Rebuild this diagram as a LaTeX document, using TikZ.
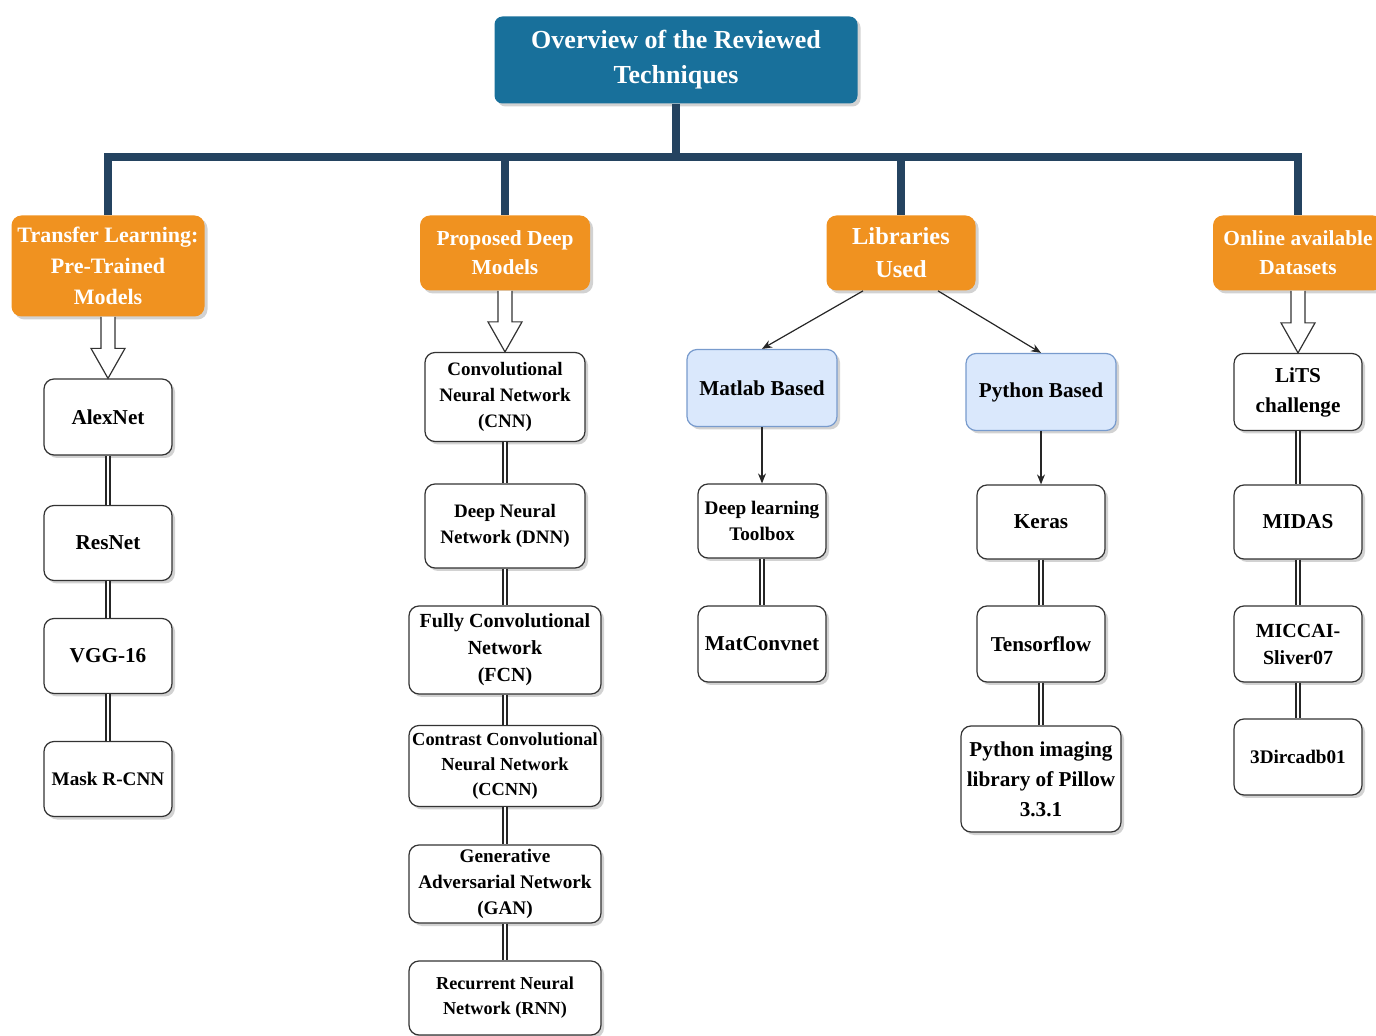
\documentclass[tikz,border=0pt]{standalone}
\usepackage{fontspec}
\setmainfont{Liberation Serif}
\usetikzlibrary{arrows.meta, calc, shadows}
\definecolor{rootteal}{RGB}{24,112,155}
\definecolor{catorange}{RGB}{240,146,32}
\definecolor{trunknavy}{RGB}{36,67,96}
\definecolor{libblue}{RGB}{218,232,252}
\definecolor{libedge}{RGB}{120,155,205}
\newcommand{\fs}[2]{\fontsize{#1}{#2}\selectfont}
% open block arrow from a category box down to its first item
\newcommand{\hollowdown}[2]{%
\draw[hollow] ($(#1.south)+(-7,0)$) -- ($(#2.north)+(-7,-30)$) -- ($(#2.north)+(-17,-30)$)
  -- (#2.north) -- ($(#2.north)+(17,-30)$) -- ($(#2.north)+(7,-30)$) -- ($(#1.south)+(7,0)$);}

\begin{document}
\begin{tikzpicture}[x=0.5pt, y=-0.5pt,
  shade box/.style={drop shadow={shadow xshift=1.5pt, shadow yshift=-1.5pt, fill=black!35}},
  rootbox/.style={shade box, fill=rootteal, text=white, rounded corners=4pt, align=center,
    font=\bfseries\fs{13}{17.5}, minimum width=181.5pt, minimum height=43.5pt, inner sep=1pt},
  catbox/.style={shade box, fill=catorange, text=white, rounded corners=5pt, align=center,
    font=\bfseries\fs{10.7}{14.5}, inner sep=1pt},
  libbox/.style={shade box, fill=libblue, draw=libedge, line width=0.6pt, rounded corners=5pt,
    align=center, font=\bfseries\fs{10.6}{15}, minimum width=75pt, minimum height=38.5pt},
  itembox/.style={shade box, fill=white, draw=black!80, line width=0.6pt, rounded corners=5pt,
    align=center, font=\bfseries\fs{10.6}{15}, inner sep=1pt},
  netbox/.style={itembox, font=\bfseries\fs{9.5}{12.8}},
  trunk/.style={draw=trunknavy, line width=4pt},
  link/.style={draw=black!85, line width=0.6pt, double, double distance=1.4pt},
  flow/.style={draw=black!85, line width=0.6pt, -{Stealth[length=5pt, width=4pt]}},
  hollow/.style={draw=black!80, fill=white, line width=0.6pt}]
\useasboundingbox (0,0) rectangle (1376,1036);

% root and categories
\node[rootbox] (root) at (676,60) {Overview of the Reviewed\\Techniques};
\node[catbox, minimum width=96.5pt, minimum height=50.5pt, font=\bfseries\fs{11}{15.5}] (tl) at (108,266) {Transfer Learning:\\Pre-Trained\\Models};
\node[catbox, minimum width=85pt, minimum height=37.5pt] (pd) at (505,253) {Proposed Deep\\Models};
\node[catbox, minimum width=74.5pt, minimum height=37.5pt, font=\bfseries\fs{12.2}{16.5}] (lib) at (901,253) {Libraries\\Used};
\node[catbox, minimum width=85pt, minimum height=37.5pt] (od) at (1298,253) {Online available\\Datasets};

\coordinate (bus) at (676,157);
\draw[trunk] (root.south) -- (bus);
\foreach \c in {tl,pd,lib,od}
  \draw[trunk] (bus) -| (\c.north);

% pre-trained models
\node[itembox, minimum width=64pt, minimum height=38pt] (alex) at (108,417) {AlexNet};
\node[itembox, minimum width=64pt, minimum height=37.5pt] (resnet) at (108,543) {ResNet};
\node[itembox, minimum width=64pt, minimum height=37.5pt] (vgg) at (108,656) {VGG-16};
\node[itembox, minimum width=64pt, minimum height=37.5pt, font=\bfseries\fs{9.6}{13}] (mask) at (108,779) {Mask R-CNN};
\hollowdown{tl}{alex}
\draw[link] (alex) -- (resnet);
\draw[link] (resnet) -- (vgg);
\draw[link] (vgg) -- (mask);

% proposed deep models
\node[netbox, minimum width=80pt, minimum height=44.5pt] (cnn) at (505,397) {Convolutional\\Neural Network\\(CNN)};
\node[netbox, minimum width=80pt, minimum height=42pt] (dnn) at (505,526) {Deep Neural\\Network (DNN)};
\node[netbox, minimum width=96pt, minimum height=44pt, font=\bfseries\fs{10}{13.5}] (fcn) at (505,650) {Fully Convolutional\\Network\\(FCN)};
\node[netbox, minimum width=96pt, minimum height=40.5pt, font=\bfseries\fs{9.2}{12.3}] (ccnn) at (505,766) {Contrast Convolutional\\Neural Network\\(CCNN)};
\node[netbox, minimum width=96pt, minimum height=39pt, font=\bfseries\fs{9.6}{13}] (gan) at (505,884) {Generative\\Adversarial Network\\(GAN)};
\node[netbox, minimum width=96pt, minimum height=37pt, font=\bfseries\fs{9.1}{12.5}] (rnn) at (505,998) {Recurrent Neural\\Network (RNN)};
\hollowdown{pd}{cnn}
\draw[link] (cnn) -- (dnn);
\draw[link] (dnn) -- (fcn);
\draw[link] (fcn) -- (ccnn);
\draw[link] (ccnn) -- (gan);
\draw[link] (gan) -- (rnn);

% libraries
\node[libbox] (matlab) at (762,388) {Matlab Based};
\node[libbox] (python) at (1041,392) {Python Based};
\draw[flow] ($(lib.south)+(-38,0)$) -- (matlab.north);
\draw[flow] ($(lib.south)+(37,0)$) -- (python.north);
\node[itembox, minimum width=64pt, minimum height=37pt, font=\bfseries\fs{9.6}{13}] (dlt) at (762,521) {Deep learning\\Toolbox};
\node[itembox, minimum width=64pt, minimum height=38pt] (matconv) at (762,644) {MatConvnet};
\draw[flow] (matlab) -- (dlt);
\draw[link] (dlt) -- (matconv);
\node[itembox, minimum width=64pt, minimum height=37pt] (keras) at (1041,522) {Keras};
\node[itembox, minimum width=64pt, minimum height=38pt] (tensor) at (1041,644) {Tensorflow};
\node[itembox, minimum width=80pt, minimum height=53pt] (pil) at (1041,779) {Python imaging\\library of Pillow\\3.3.1};
\draw[flow] (python) -- (keras);
\draw[link] (keras) -- (tensor);
\draw[link] (tensor) -- (pil);

% datasets
\node[itembox, minimum width=64pt, minimum height=38.5pt] (lits) at (1298,392) {LiTS\\challenge};
\node[itembox, minimum width=64pt, minimum height=37pt] (midas) at (1298,522) {MIDAS};
\node[itembox, minimum width=64pt, minimum height=38pt, font=\bfseries\fs{10}{13.5}] (miccai) at (1298,644) {MICCAI-\\Sliver07};
\node[itembox, minimum width=64pt, minimum height=38pt, font=\bfseries\fs{9.6}{13}] (dircadb) at (1298,757) {3Dircadb01};
\hollowdown{od}{lits}
\draw[link] (lits) -- (midas);
\draw[link] (midas) -- (miccai);
\draw[link] (miccai) -- (dircadb);
\end{tikzpicture}
\end{document}
